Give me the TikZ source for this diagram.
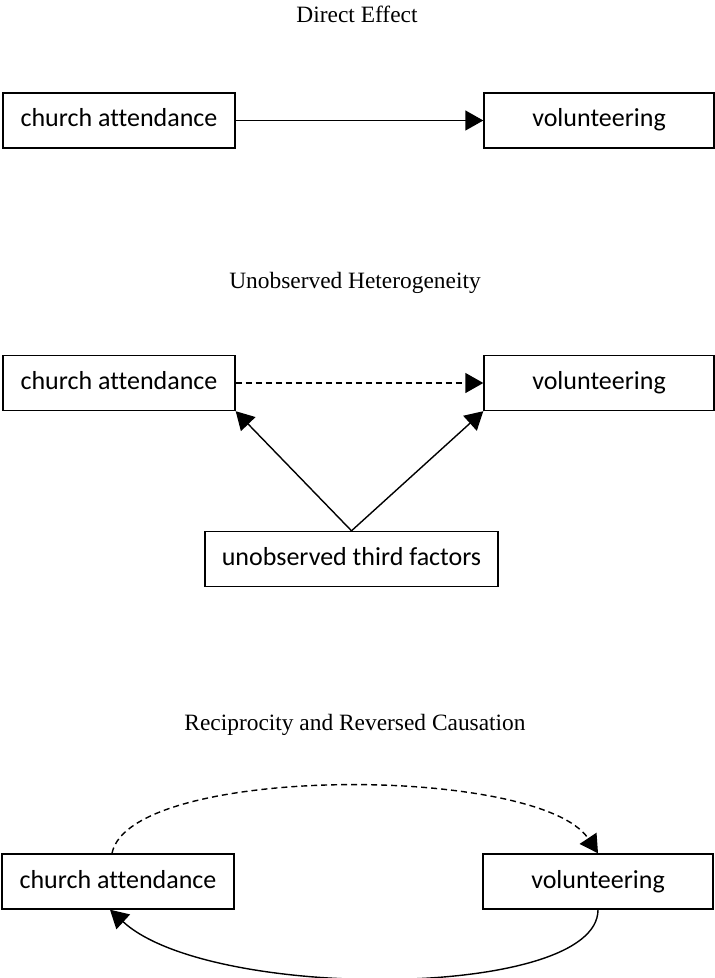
\documentclass[tikz,border=0pt]{standalone}
\usepackage{fontspec}
\setmainfont{Liberation Serif}
\newfontfamily\boxfont[Ligatures=NoCommon]{Carlito}
\usetikzlibrary{arrows.meta}

\tikzset{
  boxnode/.style={draw, line width=0.7pt, inner sep=0pt, minimum height=27.5pt,
    text height=9.5pt, text depth=3pt,
    font=\boxfont\fontsize{13}{15}\selectfont},
  titlenode/.style={font=\fontsize{11.7}{14}\selectfont},
  arr/.style={line width=0.7pt, -{Triangle[length=9pt,width=10pt]}},
  dashline/.style={dash pattern=on 3pt off 2pt}
}

\begin{document}
\begin{tikzpicture}[x=0.5pt, y=-0.5pt]
  \useasboundingbox (0,0) rectangle (715,978);

  % Direct Effect
  \node[titlenode] (t1) at (357,14) {Direct Effect};
  \node[boxnode, minimum width=116pt] (ca1) at (119,120.5) {church attendance};
  \node[boxnode, minimum width=115pt] (vo1) at (599,120.5) {volunteering};
  \draw[arr] (ca1) -- (vo1);

  % Unobserved Heterogeneity
  \node[titlenode] (t2) at (355,283) {Unobserved Heterogeneity};
  \node[boxnode, minimum width=116pt] (ca2) at (119,383) {church attendance};
  \node[boxnode, minimum width=115pt] (vo2) at (599,383) {volunteering};
  \node[boxnode, minimum width=146.5pt] (tf) at (351.5,559) {unobserved third factors};
  \draw[arr, dashline] (ca2) -- (vo2);
  \draw[arr] (tf.north) -- (ca2.south east);
  \draw[arr] (tf.north) -- (vo2.south west);

  % Reciprocity and Reversed Causation
  \node[titlenode] (t3) at (355,725) {Reciprocity and Reversed Causation};
  \node[boxnode, minimum width=116pt] (ca3) at (118,881.5) {church attendance};
  \node[boxnode, minimum width=115pt] (vo3) at (598,881.5) {volunteering};
  \draw[arr, dashline] ([xshift=-3pt]ca3.north) .. controls +(9pt,44.5pt) and +(-29.5pt,44.5pt) .. (vo3.north);
  \draw[arr] (vo3.south) .. controls +(0pt,-45pt) and +(50pt,-46pt) .. ([xshift=-4pt]ca3.south);
\end{tikzpicture}
\end{document}
